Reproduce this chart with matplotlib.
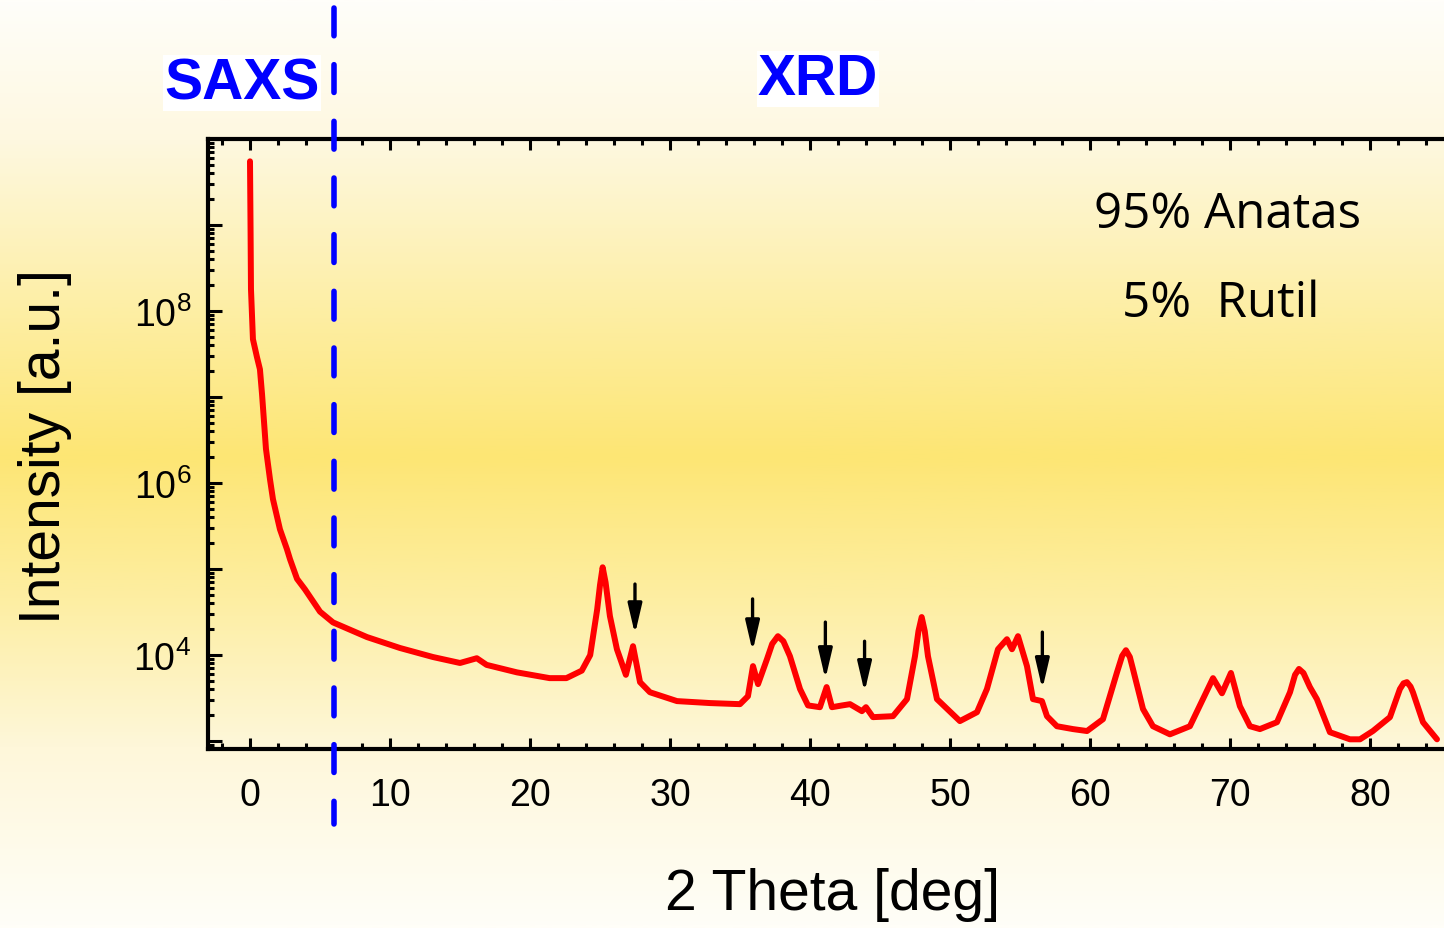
import matplotlib
matplotlib.use("Agg")
import matplotlib.pyplot as plt
import numpy as np
from matplotlib.colors import LinearSegmentedColormap

plt.rcParams['font.family'] = ['Liberation Sans', 'DejaVu Sans']
plt.rcParams['mathtext.default'] = 'regular'

# data
two_theta = [0.0, 0.04, 0.07, 0.21, 0.5, 0.71, 0.86, 1.14, 1.43, 1.64, 2.14, 2.64, 2.86, 3.36, 3.93,
             4.79, 5.0, 5.93,
             8.36, 10.71, 13.07, 15.0, 16.2, 16.9, 19.07, 21.4, 22.6, 23.7, 24.3, 24.8,
             25.0, 25.19, 25.4, 25.71, 26.21, 26.85, 27.36, 27.86, 28.57, 30.5, 32.86,
             35.0, 35.57, 35.93, 36.29, 36.93, 37.3, 37.71, 38.1, 38.57, 39.29, 39.86,
             40.71, 41.19, 41.57, 42.3, 42.86, 43.71, 44.0, 44.5, 45.93, 46.93, 47.5,
             47.75, 47.98, 48.2, 48.43, 49.07, 50.71, 51.93, 52.64, 53.43, 54.07, 54.43,
             54.86, 55.5, 55.93, 56.57, 56.93, 57.64, 58.79, 59.79, 60.93, 61.93, 62.3, 62.57,
             62.85, 63.07, 63.79, 64.5, 65.71, 67.14, 68.07, 68.79, 69.43, 70.07, 70.71, 71.43,
             72.14, 73.36, 74.29, 74.65, 74.93, 75.25, 75.71, 76.21, 77.14, 78.57, 79.29, 80.21, 81.43,
             82.14, 82.4, 82.64, 82.9, 83.07, 83.79, 84.79]
intensity = [5.5e9, 9.0e8, 1.8e8, 4.7e7, 2.9e7, 2.1e7, 1.08e7, 2.5e6, 1.1e6, 6.5e5, 2.9e5, 1.7e5, 1.3e5,
             7.7e4, 5.8e4, 3.6e4, 3.2e4, 2.4e4,
             1.62e4, 1.21e4, 9.5e3, 8.1e3, 9.2e3, 7.7e3, 6.3e3, 5.4e3, 5.4e3, 6.6e3, 1.0e4, 3.4e4,
             6.5e4, 1.05e5, 7.0e4, 2.84e4, 1.17e4, 5.9e3, 1.27e4, 4.85e3, 3.7e3, 2.92e3, 2.77e3,
             2.69e3, 3.33e3, 7.45e3, 4.6e3, 8.99e3, 1.35e4, 1.66e4, 1.45e4, 9.7e3, 4.03e3, 2.6e3,
             2.48e3, 4.25e3, 2.48e3, 2.6e3, 2.69e3, 2.23e3, 2.48e3, 1.9e3, 1.95e3, 3.08e3, 9.7e3,
             1.9e4, 2.77e4, 1.9e4, 9.7e3, 3.08e3, 1.71e3, 2.17e3, 4.03e3, 1.17e4, 1.53e4, 1.17e4,
             1.66e4, 7.45e3, 3.08e3, 2.92e3, 1.95e3, 1.49e3, 1.38e3, 1.31e3, 1.8e3, 6.3e3, 9.8e3, 1.14e4,
             9.5e3, 6.9e3, 2.36e3, 1.49e3, 1.2e3, 1.49e3, 3.08e3, 5.4e3, 3.6e3, 6.2e3, 2.55e3, 1.49e3,
             1.38e3, 1.66e3, 3.7e3, 5.9e3, 6.9e3, 6.2e3, 4.25e3, 3.08e3, 1.27e3, 1.05e3, 1.05e3, 1.31e3, 1.9e3,
             4.03e3, 4.7e3, 4.85e3, 4.3e3, 3.7e3, 1.66e3, 1.05e3]

# rutile reflections marked with arrows
arrow_x = [27.5, 35.9, 41.1, 43.9, 56.6]
arrow_top = [6.7e4, 4.5e4, 2.42e4, 1.45e4, 1.85e4]
arrow_tip = [1.75e4, 1.11e4, 5.26e3, 3.72e3, 4.03e3]

xticks = [0, 10, 20, 30, 40, 50, 60, 70, 80]
ydecades = [1e3, 1e4, 1e5, 1e6, 1e7, 1e8, 1e9, 1e10]
ylabels = ['', '$10^{4}$', '', '$10^{6}$', '', '$10^{8}$', '', '']

fig = plt.figure(figsize=(14.44, 9.29), dpi=100)

# background gradient (white - yellow - white)
bg = fig.add_axes([0, 0, 1, 1], zorder=-10)
stops = [(0.0, '#fffefa'), (140 / 929, '#fef8e0'), (300 / 929, '#fdefa8'), (457 / 929, '#fde674'),
         (600 / 929, '#fdeea2'), (750 / 929, '#fef7da'), (1.0, '#fffef8')]
cmap = LinearSegmentedColormap.from_list('bg', stops)
bg.imshow(np.linspace(0, 1, 512).reshape(-1, 1), aspect='auto', cmap=cmap, extent=[0, 1, 1, 0])
bg.set_axis_off()

ax = fig.add_axes([208 / 1444, 1 - 750 / 929, 1236 / 1444, 610 / 929])
ax.patch.set_alpha(0)

ax.plot(two_theta, intensity, color='red', lw=4.3, solid_joinstyle='round', solid_capstyle='round')
ax.set_yscale('log')
ax.set_xlim(-3, 85.29)
ax.set_ylim(810, 1e10)

for x, y0, y1 in zip(arrow_x, arrow_top, arrow_tip):
    ax.annotate('', xy=(x, y1), xytext=(x, y0),
                arrowprops=dict(arrowstyle='-|>,head_length=0.6,head_width=0.14', color='black',
                                lw=2.4, mutation_scale=30, shrinkA=0, shrinkB=0))

# SAXS / XRD separator
ax.plot([6, 6], [1.215, -0.123], transform=ax.get_xaxis_transform(), clip_on=False,
        color='blue', lw=4, dashes=(5.0, 5.2), dash_capstyle='round', zorder=5)

ax.set_xticks(xticks)
ax.set_xticks(np.arange(-2, 86, 2), minor=True)
ax.set_yticks(ydecades)
ax.set_yticklabels(ylabels)
ax.yaxis.set_minor_locator(matplotlib.ticker.LogLocator(base=10, subs=np.arange(2, 10), numticks=20))
ax.yaxis.set_minor_formatter(matplotlib.ticker.NullFormatter())
ax.tick_params(which='both', direction='in', width=2.2, top=True, labelsize=27, colors='black')
ax.tick_params(which='major', length=8, pad=12)
ax.tick_params(which='minor', length=4)
ax.tick_params(axis='y', which='major', length=10)
ax.tick_params(axis='x', which='major', pad=20)
ax.spines['right'].set_visible(False)
for s in ['left', 'top', 'bottom']:
    ax.spines[s].set_linewidth(3)

fig.text(45 / 1444, 1 - 446 / 929, 'Intensity [a.u.]', rotation=90, ha='center', va='center', fontsize=41)
fig.text(833 / 1444, 1 - 895 / 929, '2 Theta [deg]', ha='center', va='center', fontsize=41)

fig.text(242 / 1444, 1 - 84 / 929, 'SAXS', ha='center', va='center', fontsize=41, fontweight='bold',
         color='blue', bbox=dict(facecolor='white', edgecolor='none', pad=1))
fig.text(818 / 1444, 1 - 80 / 929, 'XRD', ha='center', va='center', fontsize=41, fontweight='bold',
         color='blue', bbox=dict(facecolor='white', edgecolor='none', pad=1))

fig.text(1228 / 1444, 1 - 215 / 929, '95% Anatas', ha='center', va='center', fontsize=35.5,
         family=['Open Sans', 'DejaVu Sans'])
fig.text(1221 / 1444, 1 - 304 / 929, '5%  Rutil', ha='center', va='center', fontsize=35.5,
         family=['Open Sans', 'DejaVu Sans'])

fig.savefig('out.png', dpi=100)
